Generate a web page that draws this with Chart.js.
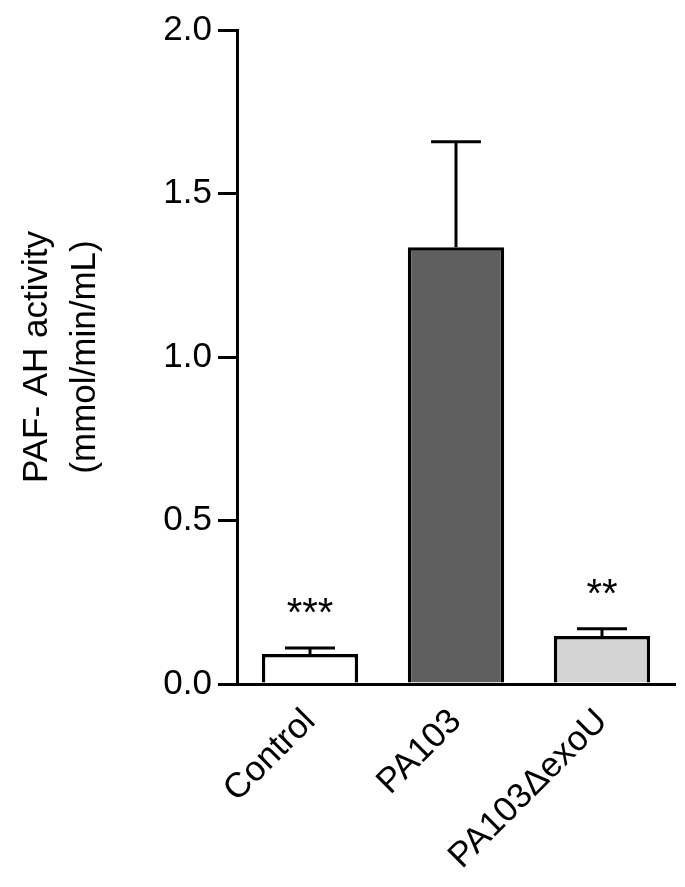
<!DOCTYPE html>
<html>
<head>
<meta charset="utf-8">
<script src="https://cdn.jsdelivr.net/npm/chart.js@4"></script>
<style>
  html, body { margin: 0; padding: 0; background: #fff; }
  #wrap { width: 685px; height: 887px; position: relative; }
</style>
</head>
<body>
<div id="wrap"><canvas id="myChart" width="685" height="887"></canvas></div>
<script>
// values
const groups = ['Control', 'PA103', 'PA103\u0394exoU'];
const means = [0.092, 1.336, 0.147];
const errUp = [0.018, 0.322, 0.022];
const stars = ['***', '', '**'];
const barColors = ['#ffffff', '#5f5f5f', '#d4d4d4'];
const yTicks = [0, 0.5, 1.0, 1.5, 2.0];

const FONT = '"Liberation Sans", Arial, Helvetica, sans-serif';

// error bars (upper only) and significance stars
const errorBars = {
  id: 'errorBars',
  afterDatasetsDraw(chart) {
    const ctx = chart.ctx;
    const meta = chart.getDatasetMeta(0);
    const y = chart.scales.y;
    ctx.save();
    ctx.strokeStyle = '#000';
    ctx.lineWidth = 3;
    meta.data.forEach((bar, i) => {
      const x = bar.x;
      const top = y.getPixelForValue(means[i]);
      const hi = y.getPixelForValue(means[i] + errUp[i]);
      ctx.beginPath();
      ctx.moveTo(x, top);
      ctx.lineTo(x, hi);
      ctx.moveTo(x - 25, hi);
      ctx.lineTo(x + 25, hi);
      ctx.stroke();
      if (stars[i]) {
        ctx.fillStyle = '#000';
        ctx.font = '40px ' + FONT;
        ctx.textAlign = 'center';
        ctx.textBaseline = 'alphabetic';
        ctx.fillText(stars[i], x, hi - 22);
      }
    });
    ctx.restore();
  }
};

const ctx = document.getElementById('myChart').getContext('2d');
const myChart = new Chart(ctx, {
  type: 'bar',
  data: {
    labels: groups,
    datasets: [{
      data: means,
      backgroundColor: barColors,
      borderColor: '#000',
      borderWidth: 3.5,
      borderSkipped: 'bottom',
      barPercentage: 0.66,
      categoryPercentage: 1.0
    }]
  },
  options: {
    responsive: false,
    animation: false,
    layout: { padding: { top: 30, right: 10, left: 14, bottom: 0 } },
    plugins: {
      legend: { display: false },
      tooltip: { enabled: false }
    },
    scales: {
      x: {
        grid: { display: false, drawTicks: false },
        border: { display: true, color: '#000', width: 3 },
        ticks: {
          color: '#000',
          font: { family: FONT, size: 35 },
          minRotation: 45,
          maxRotation: 45,
          padding: 17
        },
        afterFit(scale) { scale.height = 203; }
      },
      y: {
        min: 0,
        max: 2,
        afterBuildTicks(scale) { scale.ticks = yTicks.map(v => ({ value: v })); },
        grid: {
          drawOnChartArea: false,
          drawTicks: true,
          tickLength: 19,
          color: '#000',
          lineWidth: 3
        },
        border: { display: true, color: '#000', width: 3 },
        ticks: {
          color: '#000',
          font: { family: FONT, size: 35 },
          padding: 6,
          callback: v => v.toFixed(1)
        },
        title: {
          display: true,
          text: ['PAF- AH activity', '(mmol/min/mL)'],
          color: '#000',
          font: { family: FONT, size: 35, lineHeight: 1.35 },
          padding: { top: 0, bottom: 0 }
        },
        afterFit(scale) { scale.width = 223; }
      }
    }
  },
  plugins: [errorBars]
});
</script>
</body>
</html>
